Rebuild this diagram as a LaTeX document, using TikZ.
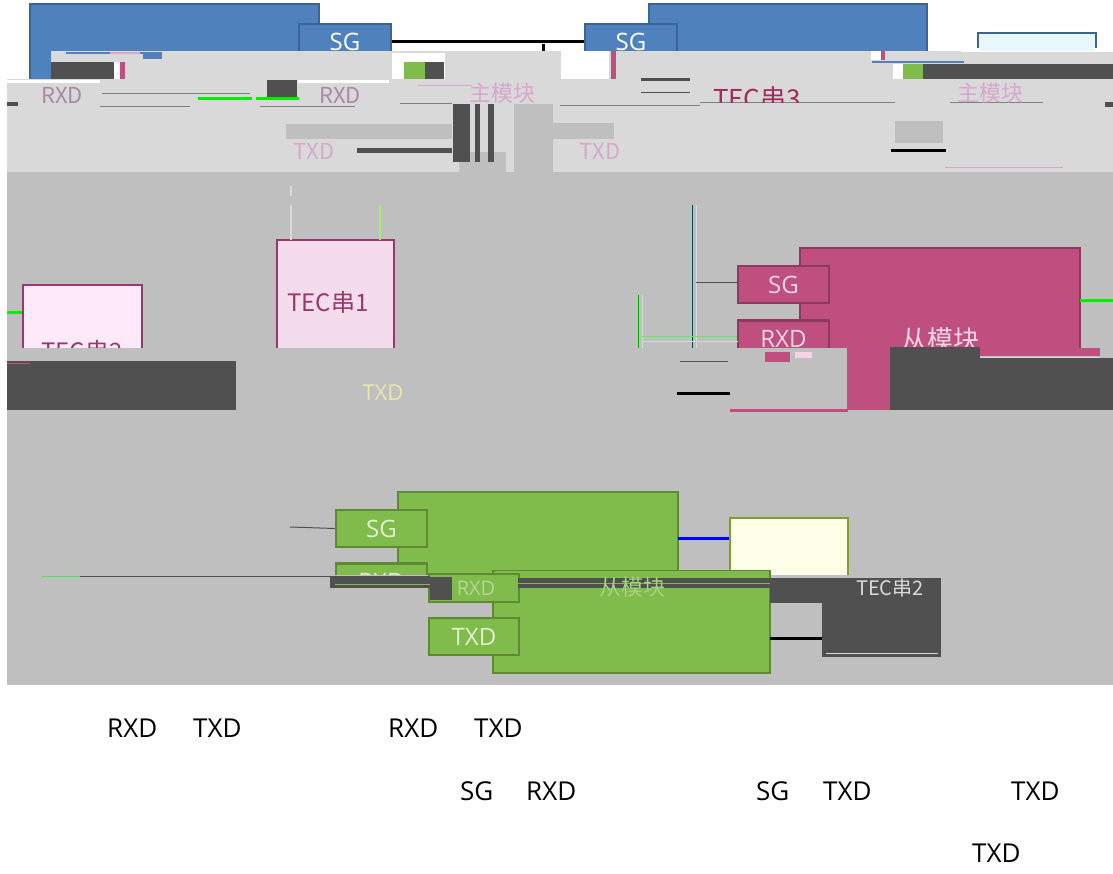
\documentclass[tikz,border=0pt]{standalone}
\usepackage{fontspec}
\setmainfont{Open Sans}
\newfontfamily\cjk{Noto Sans CJK SC}
\definecolor{blueF}{HTML}{4F81BD}
\definecolor{blueD}{HTML}{3A6496}
\definecolor{cyanF}{HTML}{E6F8FC}
\definecolor{pinkF}{HTML}{BE4F7F}
\definecolor{pinkD}{HTML}{8C3A60}
\definecolor{pinkT}{HTML}{F2D5E4}
\definecolor{tecF}{HTML}{F4DCEC}
\definecolor{tecF2}{HTML}{FDE9F8}
\definecolor{tecD}{HTML}{953B6B}
\definecolor{greenF}{HTML}{80BC4C}
\definecolor{greenD}{HTML}{5F8A35}
\definecolor{greenT}{HTML}{E2EED6}
\definecolor{yelF}{HTML}{FFFFE9}
\definecolor{lightg}{HTML}{D9D9D9}
\definecolor{midg}{HTML}{BFBFBF}
\definecolor{midg2}{HTML}{B5B5B5}
\definecolor{darkg}{HTML}{505050}
\definecolor{bgreen}{HTML}{00EE00}
\definecolor{faintpink}{HTML}{D8A8CC}
\definecolor{garb}{HTML}{A88AA4}
\definecolor{tecred}{HTML}{A02C5C}
\definecolor{paleyel}{HTML}{E6E8B0}
\begin{document}
\begin{tikzpicture}[x=1pt,y=-1pt,
  bluebox/.style={fill=blueF,draw=blueD,line width=2.5pt},
  bluepin/.style={bluebox,minimum width=92pt,minimum height=36pt,inner sep=0pt,text=white,font=\fontsize{24}{24}\selectfont},
  pinkbox/.style={fill=pinkF,draw=pinkD,line width=2.5pt},
  pinkpin/.style={pinkbox,minimum width=91pt,minimum height=37pt,inner sep=0pt,text=pinkT,font=\fontsize{24}{24}\selectfont},
  greenbox/.style={fill=greenF,draw=greenD,line width=2.5pt},
  greenpin/.style={greenbox,minimum width=91pt,minimum height=37pt,inner sep=0pt,text=greenT,font=\fontsize{24}{24}\selectfont},
  tecbox/.style={fill=tecF,draw=tecD,line width=2.5pt},
  lbl/.style={inner sep=0pt,font=\fontsize{26}{26}\selectfont,anchor=west},
  garbtxt/.style={inner sep=0pt,font=\cjk\fontsize{22}{22}\selectfont}
]
\useasboundingbox (0,0) rectangle (1113,874);
\fill[white] (0,0) rectangle (1113,874);

% ---------- top: master modules ----------
\draw[bluebox] (30,4) rectangle (319,82);
\node[bluepin] (sgA) at (345,42) {SG};
\draw[bluebox] (649,4) rectangle (927,60);
\node[bluepin] (sgB) at (631,42) {SG};
\draw[fill=cyanF,draw=blueD,line width=2.5pt] (978,33) rectangle (1096,70);
\draw[line width=3pt] (sgA.east) -- (sgB.west);
\coordinate (stubT) at (543,44);
\coordinate (stubB) at (543,54);
\draw[line width=3pt] (stubT) -- (stubB);
\draw[red,line width=2pt] (927,52) -- (978,52);

% ---------- light gray band ----------
\fill[lightg] (51,51) rectangle (1113,79);
\fill[lightg] (7,79) rectangle (1113,172);
\fill[white] (961,48) rectangle (1113,52);
\fill[cyanF] (980,48) rectangle (1094,51);

% details upper band left
\fill[blueF] (66,52) rectangle (162,54);
\fill[blueF] (143,54) rectangle (162,59);
\fill[faintpink] (110,52) rectangle (140,54);
\fill[darkg] (51,62) rectangle (114,79);
\fill[white] (114,62) rectangle (120,79);
\fill[pinkF] (120,62) rectangle (125,79);
\fill[white] (392,53) rectangle (445,79);
\fill[greenF] (404,62) rectangle (425,79);
\fill[darkg] (425,62) rectangle (444,79);
\fill[white] (7,80) rectangle (100,83);
\fill[white] (298,80) rectangle (389,83);
\fill[darkg] (267,80) rectangle (297,98);
\draw[bgreen,line width=3pt] (198,99) -- (252,99);
\draw[bgreen,line width=3pt] (256,99) -- (299,99);
\draw[gray,line width=1pt] (102,94) -- (250,94);
\draw[gray,line width=1pt] (100,107) -- (190,107);
\draw[gray,line width=1pt] (260,107) -- (355,107);
\draw[faintpink,line width=1pt] (418,86) -- (472,86);
\draw[gray,line width=1pt] (400,104) -- (452,104);
\fill[darkg] (7,102) rectangle (18,106);

% details upper band right
\fill[white] (561,51) rectangle (609,79);
\fill[pinkF] (611,51) rectangle (616,79);
\fill[white] (871,51) rectangle (881,60);
\fill[pinkF] (881,51) rectangle (885,60);
\draw[blueF,line width=1.5pt] (872,62) -- (964,62);
\fill[white] (893,64) rectangle (903,79);
\fill[greenF] (903,64) rectangle (923,79);
\fill[darkg] (923,64) rectangle (1113,79);
\draw[darkg,line width=3pt] (641,80) -- (690,80);
\draw[darkg,line width=1pt] (641,93) -- (690,93);
\draw[gray,line width=1pt] (560,106) -- (700,106);
\draw[gray,line width=1pt] (700,103) -- (895,103);
\draw[gray,line width=1pt] (950,103) -- (1043,103);
\fill[darkg] (1105,102) rectangle (1113,107);

% mid gray strips in upper band
\fill[midg] (286,124) rectangle (452,139);
\fill[midg] (553,123) rectangle (614,139);
\fill[midg] (895,121) rectangle (943,143);
\fill[midg] (459,152) rectangle (506,172);
\fill[midg] (514,104) rectangle (553,172);
\fill[darkg] (453,104) rectangle (470,162);
\fill[darkg] (475,104) rectangle (480,162);
\fill[darkg] (488,104) rectangle (494,162);
\draw[darkg,line width=5pt] (357,151) -- (452,151);
\draw[line width=3pt] (891,151) -- (946,151);
\draw[faintpink,line width=1pt] (945,168) -- (1063,168);

% garbled texts in upper band
\node[garbtxt,text=garb] (gr1) at (62,95) {RXD};
\node[garbtxt,text=garb] (gr2) at (340,95) {RXD};
\node[garbtxt,text=faintpink] (gm1) at (502,93) {主模块};
\node[garbtxt,text=faintpink] (gm2) at (990,93) {主模块};
\begin{scope}
\clip (690,80) rectangle (830,103);
\node[garbtxt,text=tecred,font=\cjk\fontsize{26}{26}\selectfont] (gt3) at (757,99) {TEC串3};
\end{scope}
\node[garbtxt,text=faintpink] (gtx1) at (314,151) {TXD};
\node[garbtxt,text=faintpink] (gtx2) at (600,151) {TXD};

% ---------- main gray area ----------
\fill[midg] (7,172) rectangle (1113,685);

% TEC strings
\node[tecbox,minimum width=117pt,minimum height=130pt,inner sep=0pt] (tec1) at (335.5,305) {};
\node[font=\cjk\fontsize{24}{24}\selectfont,text=tecD] (tec1t) at (328,302) {TEC串1};
\draw[lightg,line width=1.5pt] (291,205) -- (291,240);
\draw[lightg,line width=1.5pt] (291,186) -- (291,196);
\draw[paleyel!70!green,line width=1.5pt] (380,205) -- (380,240);
\node[fill=tecF2,draw=tecD,line width=2.5pt,minimum width=119pt,minimum height=90pt,inner sep=0pt] (tec2) at (82.5,330) {};
\begin{scope}
\clip (20,280) rectangle (150,347);
\node[font=\cjk\fontsize{24}{24}\selectfont,text=tecD] (tec2t) at (82,351) {TEC串2};
\end{scope}
\coordinate (gl) at (7,313);
\draw[bgreen,line width=3pt] (gl) -- (tec2.west |- gl);

% pink slave module
\draw[pinkbox] (800,248) rectangle (1080,380);
\node[pinkpin] (sgP) at (783.5,284.5) {SG};
\node[pinkpin] (rxP) at (783.5,339) {RXD};
\begin{scope}
\clip (850,300) rectangle (1070,347);
\node[font=\cjk\fontsize{26}{26}\selectfont,text=pinkT] (slP) at (940,340) {从模块};
\end{scope}
\coordinate (gr) at (1113,301);
\draw[bgreen,line width=3pt] (1080,301) -- (gr);
% connectors left of pink module
\coordinate (v1t) at (692,205);
\coordinate (v1b) at (692,348);
\draw[teal!60!black,line width=1pt] (v1t) -- (v1b);
\draw[lightg,line width=1pt] (696,205) -- (696,348);
\draw[darkg,line width=1pt] (696,283) -- (sgP.west |- 0,283);
\coordinate (v2t) at (638,295);
\draw[green!70!black,line width=1pt] (v2t) -- (638,348);
\draw[lightg,line width=1pt] (642,295) -- (642,348);
\draw[green!60!lightg,line width=1pt] (642,337) -- (rxP.west |- 0,337);
\draw[lightg,line width=1pt] (642,342) -- (738,342);

% cut band in middle
\fill[midg] (7,348) rectangle (1113,412);
\fill[pinkF] (847,348) rectangle (890,410);
\fill[darkg] (890,347) rectangle (980,410);
\fill[darkg] (980,358) rectangle (1113,410);
\fill[pinkF] (980,348) rectangle (1100,356);
\draw[lightg,line width=1pt] (980,357) -- (1100,357);
\fill[darkg] (7,361) rectangle (236,410);
\draw[pinkF,line width=1pt] (7,363) -- (30,363);
\draw[pinkF,line width=3pt] (730,410) -- (848,410);
\draw[line width=3pt] (677,393) -- (730,393);
\draw[darkg,line width=1pt] (680,361) -- (728,361);
\fill[pinkF] (765,352) rectangle (790,362);
\fill[pinkT] (795,352) rectangle (812,358);
\node[inner sep=0pt,font=\fontsize{22}{22}\selectfont,text=paleyel] (txm) at (383,393) {TXD};

% green slave module
\draw[greenbox] (398,492) rectangle (678,600);
\node[greenpin] (sgG) at (381.5,528.5) {SG};
\node[greenpin] (rxG) at (381.5,582) {RXD};
\coordinate (sgl) at (290,527);
\draw[darkg,line width=1pt] (sgl) -- (sgG.west);
\node[fill=yelF,draw=greenD!80!yellow,line width=2.5pt,minimum width=118pt,minimum height=70pt,inner sep=0pt] (tecY) at (789,553) {};
\draw[blue,line width=3pt] (678,538) -- (tecY.west |- 0,538);

% cut band in lower part
\fill[midg] (7,575) rectangle (1113,684);
\draw[greenbox] (493,571) rectangle (770,673);
\fill[greenF] (494.5,571) rectangle (768.5,578);
\node[greenpin,minimum width=90pt,minimum height=28pt] (rxG2) at (474,588) {};
\node[greenpin,minimum width=90pt] (txG) at (474,636.5) {TXD};
\coordinate (lineL) at (42,576);
\draw[darkg,line width=1pt] (lineL) -- (430,576);
\draw[green!60!midg,line width=1pt] (42,576) -- (80,576);
\fill[darkg] (330,577) rectangle (452,588);
\draw[greenF,line width=1pt] (335,584) -- (430,584);
\fill[darkg] (430,577) rectangle (452,600);
\fill[darkg] (518,578) rectangle (770,588);
\draw[greenF,line width=1pt] (518,583) -- (770,583);
\node[garbtxt,text=greenF!60!white,font=\fontsize{20}{20}\selectfont] (rxg) at (476,588) {RXD};
\node[garbtxt,text=greenF!70!white] (slg) at (632,587) {从模块};
\fill[darkg] (770,578) rectangle (941,603);
\fill[darkg] (822,603) rectangle (941,657);
\draw[lightg,line width=1pt] (826,653) -- (938,653);
\node[garbtxt,text=lightg,font=\cjk\fontsize{20}{20}\selectfont] (tecg) at (890,588) {TEC串2};
\coordinate (blk) at (822,638);
\draw[line width=3pt] (770,638) -- (blk);

% ---------- labels below ----------
\node[lbl] (l1) at (107,728) {RXD};
\node[lbl] (l2) at (193,728) {TXD};
\node[lbl] (l3) at (388,728) {RXD};
\node[lbl] (l4) at (474,728) {TXD};
\node[lbl] (l5) at (460,791) {SG};
\node[lbl] (l6) at (526,791) {RXD};
\node[lbl] (l7) at (756,791) {SG};
\node[lbl] (l8) at (823,791) {TXD};
\node[lbl] (l9) at (1011,791) {TXD};
\node[lbl] (l10) at (972,853) {TXD};
\end{tikzpicture}
\end{document}
